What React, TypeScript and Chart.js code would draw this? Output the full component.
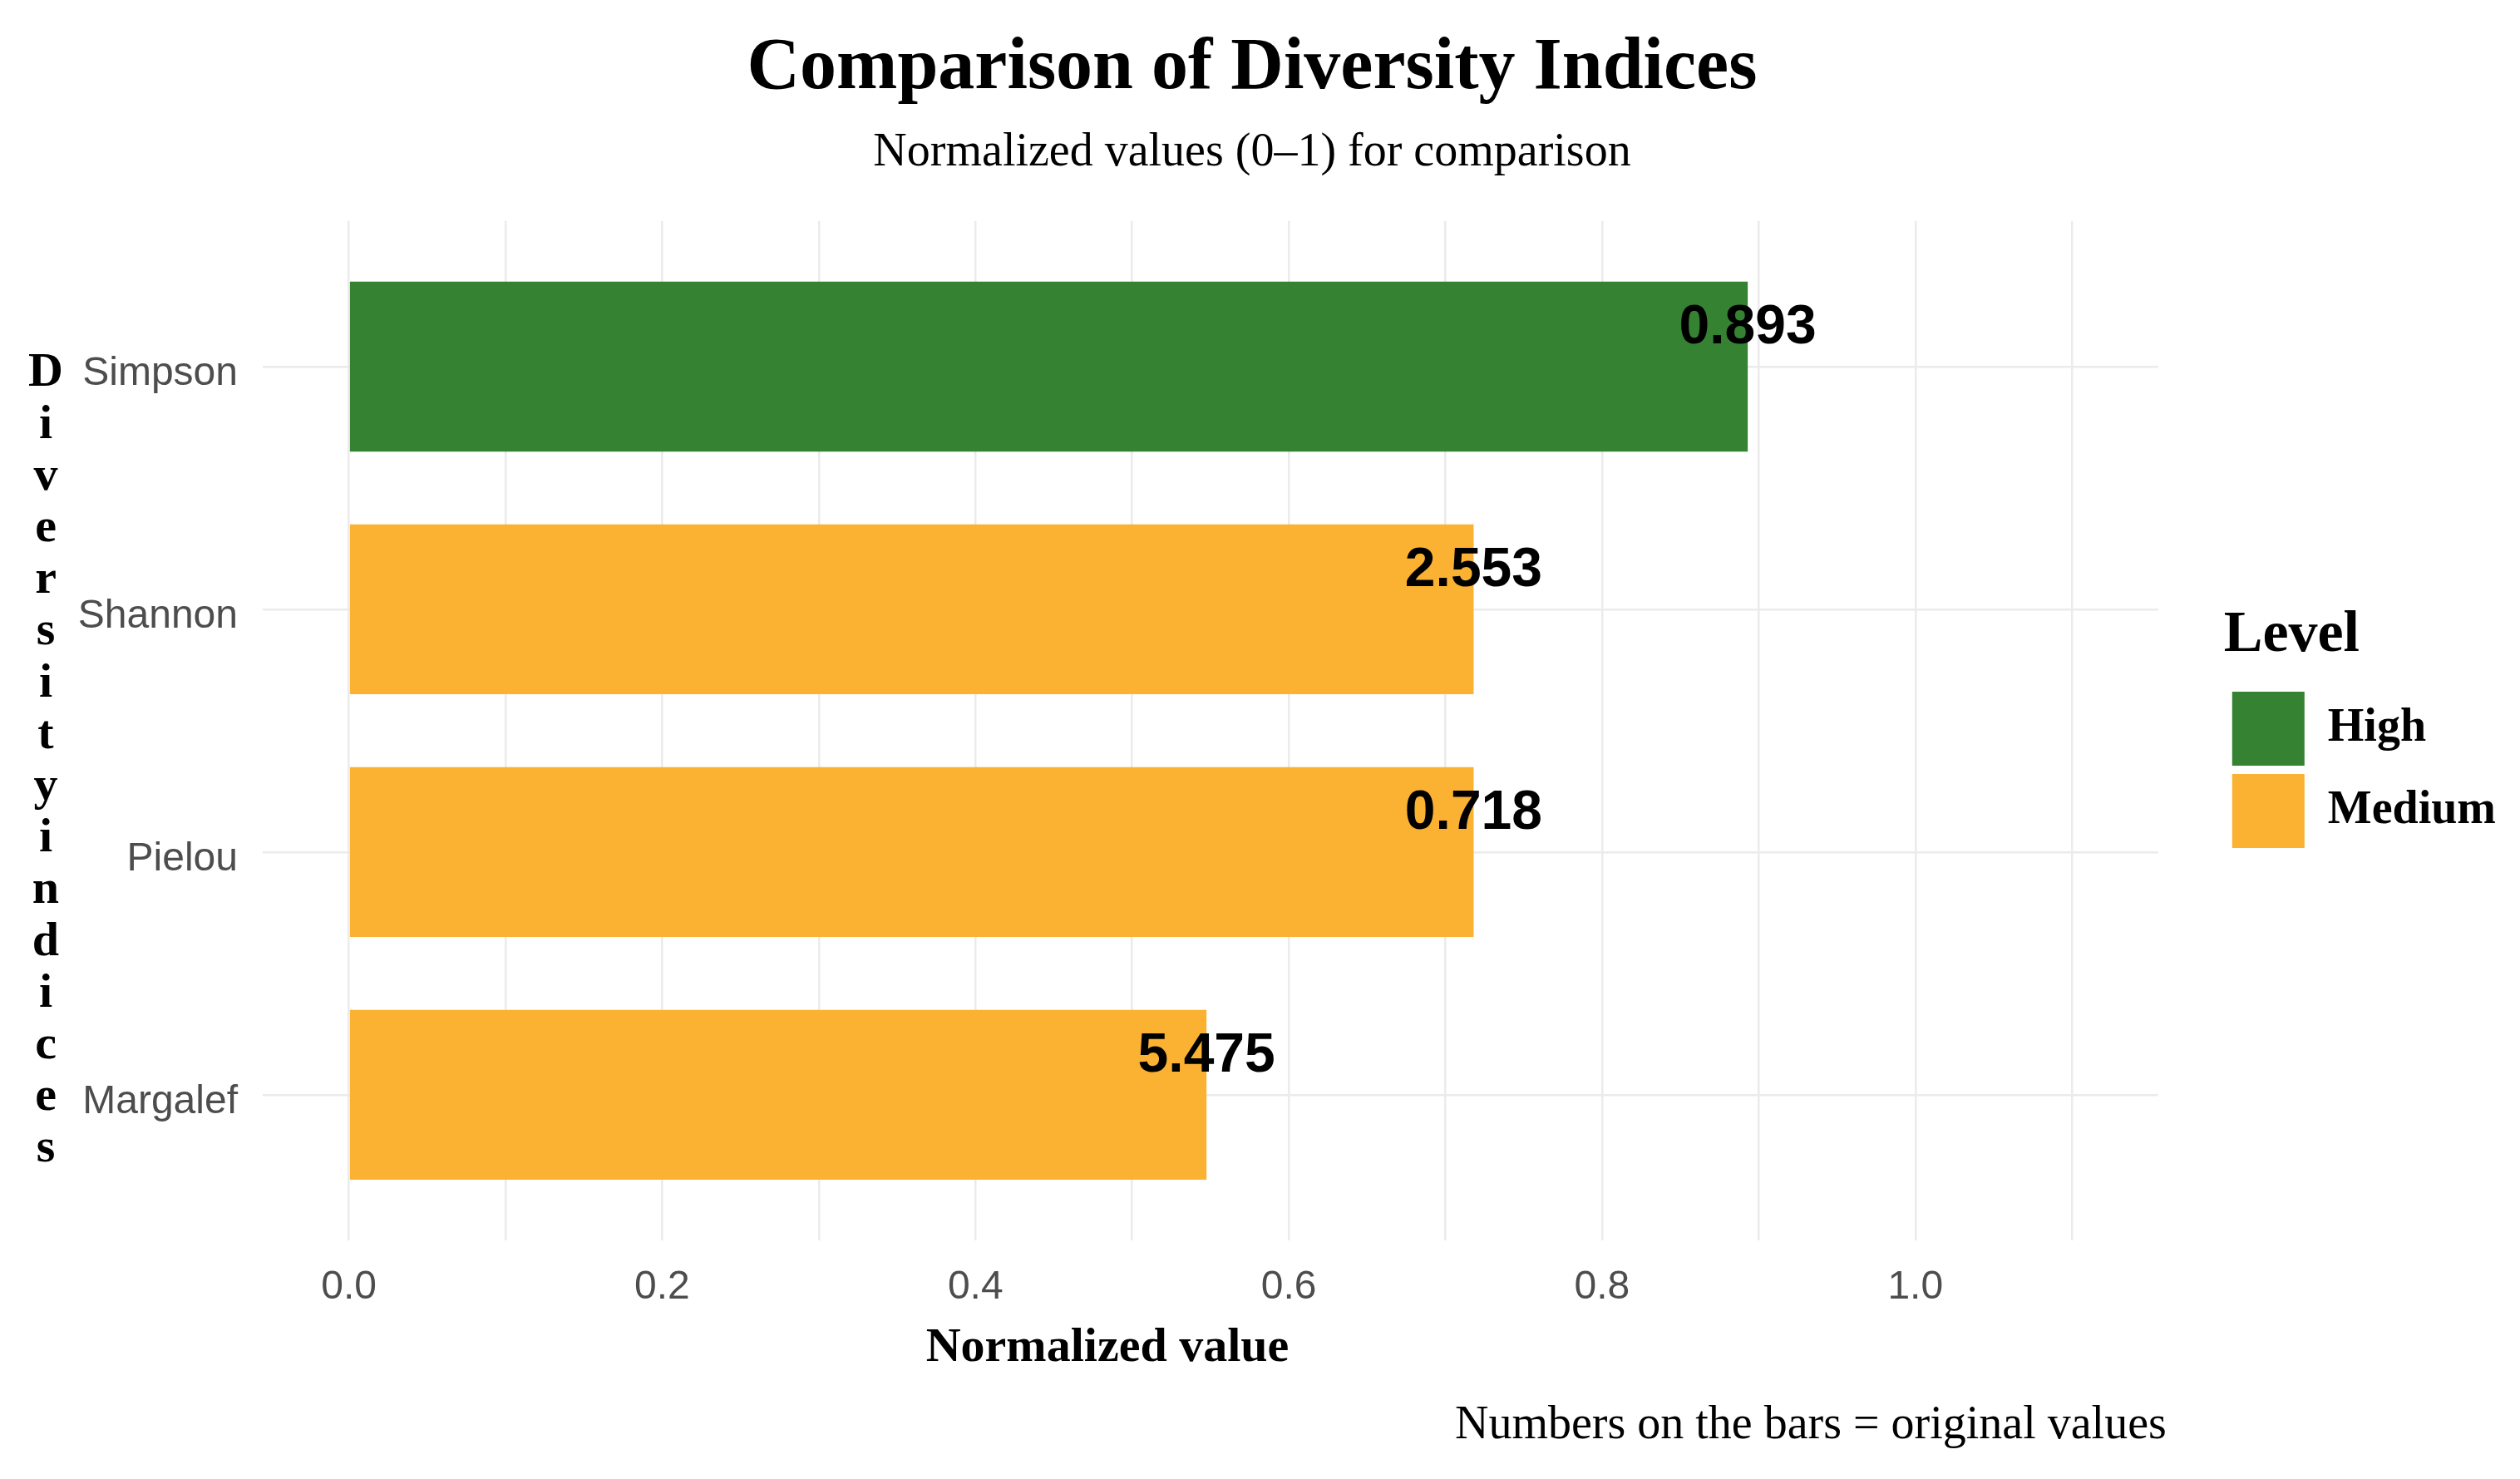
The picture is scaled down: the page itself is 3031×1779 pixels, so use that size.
import { useEffect, useRef } from 'react';
import { Chart, registerables } from 'chart.js';

Chart.register(...registerables);

// Diversity indices, top to bottom
const indices = ['Simpson', 'Shannon', 'Pielou', 'Margalef'];
// Values rescaled to 0–1 (bar lengths)
const normalizedValues = [0.893, 0.718, 0.718, 0.5475];
// Raw index values printed on the bars
const originalValues = [0.893, 2.553, 0.718, 5.475];
// Level class of each index
const levels = ['High', 'Medium', 'Medium', 'Medium'];

const levelNames = ['High', 'Medium'];
const levelColors = ['#358233', '#FBB131'];

const xBreaks = [0, 0.2, 0.4, 0.6, 0.8, 1.0];
const xMinorBreaks = [0.1, 0.3, 0.5, 0.7, 0.9, 1.1];
const xLimits = [-0.055, 1.155];

const chartTitle = 'Comparison of Diversity Indices';
const chartSubtitle = 'Normalized values (0–1) for comparison';
const xAxisTitle = 'Normalized value';
const yAxisTitle = 'Diversity indices';
const footnote = 'Numbers on the bars = original values';

const SERIF = '"Liberation Serif", "Times New Roman", serif';
const SANS = '"Liberation Sans", Arial, sans-serif';

const yPositions = indices.map((_, i) => i + 1);
const gridColor = '#EBEBEB';

const textPlugin = {
  id: 'diversityText',
  afterDatasetsDraw(chart: any) {
    const { ctx } = chart;
    const meta = chart.getDatasetMeta(0);
    ctx.save();
    ctx.font = `bold 66px ${SANS}`;
    ctx.fillStyle = '#000';
    ctx.textAlign = 'center';
    ctx.textBaseline = 'middle';
    meta.data.forEach((bar: any, i: number) => {
      ctx.fillText(originalValues[i].toFixed(3), bar.x, bar.y - 46);
    });
    ctx.restore();
  },
  afterDraw(chart: any) {
    const { ctx, chartArea } = chart;
    ctx.save();
    ctx.fillStyle = '#000';

    // y-axis title, one letter per line
    const letters = yAxisTitle.replace(/\s+/g, '').split('');
    const step = 62.2;
    const mid = (chartArea.top + chartArea.bottom) / 2 + 52;
    ctx.font = `bold 58px ${SERIF}`;
    ctx.textAlign = 'center';
    ctx.textBaseline = 'alphabetic';
    letters.forEach((ch, k) => {
      ctx.fillText(ch, 55, mid + (k - (letters.length - 1) / 2) * step);
    });

    // x-axis title
    ctx.font = `bold 58px ${SERIF}`;
    ctx.textAlign = 'center';
    ctx.fillText(xAxisTitle, chartArea.left + 1016, chartArea.bottom + 145);

    // caption
    ctx.font = `56px ${SERIF}`;
    ctx.textAlign = 'right';
    ctx.fillText(footnote, chartArea.right + 10, chartArea.bottom + 238);
    ctx.restore();
  },
};

export default function App() {
  const canvasRef = useRef<HTMLCanvasElement | null>(null);

  useEffect(() => {
    const canvas = canvasRef.current;
    if (!canvas) return;

    const chart = new Chart(canvas, {
      type: 'bar',
      data: {
        datasets: [
          {
            label: 'Normalized value',
            data: normalizedValues.map((v, i) => ({ x: v, y: yPositions[i] })) as any,
            backgroundColor: levels.map((l) => levelColors[levelNames.indexOf(l)]),
            borderWidth: 0,
            categoryPercentage: 1,
            barPercentage: 0.7,
          },
        ],
      },
      options: {
        indexAxis: 'y',
        responsive: false,
        animation: false,
        devicePixelRatio: 1,
        events: [],
        layout: { padding: { left: 0, right: 19, top: 0, bottom: 187 } },
        scales: {
          x: {
            type: 'linear',
            position: 'bottom',
            min: xLimits[0],
            max: xLimits[1],
            offset: false,
            afterBuildTicks: (scale: any) => {
              scale.ticks = [...xBreaks, ...xMinorBreaks]
                .sort((a, b) => a - b)
                .map((v) => ({ value: v }));
            },
            afterFit: (scale: any) => {
              scale.height = 100;
            },
            grid: { color: gridColor, lineWidth: 2.5, drawTicks: false, offset: false },
            border: { display: false },
            ticks: {
              autoSkip: false,
              maxRotation: 0,
              padding: 28,
              color: '#4D4D4D',
              font: { family: SANS, size: 48 },
              callback: (value: any) =>
                xBreaks.some((b) => Math.abs(b - Number(value)) < 1e-9)
                  ? Number(value).toFixed(1)
                  : '',
            },
          },
          y: {
            type: 'linear',
            position: 'left',
            min: 0.4,
            max: 4.6,
            reverse: true,
            offset: false,
            afterBuildTicks: (scale: any) => {
              scale.ticks = yPositions.map((v) => ({ value: v }));
            },
            afterFit: (scale: any) => {
              scale.width = 316;
            },
            grid: { color: gridColor, lineWidth: 2.5, drawTicks: false, offset: false },
            border: { display: false },
            ticks: {
              autoSkip: false,
              padding: 30,
              labelOffset: 9,
              color: '#4D4D4D',
              font: { family: SANS, size: 48 },
              callback: (value: any) => indices[Math.round(Number(value)) - 1] ?? '',
            },
          },
          gap: {
            type: 'linear',
            position: 'right',
            display: true,
            grid: { display: false },
            border: { display: false },
            ticks: { display: false },
            afterFit: (scale: any) => {
              scale.width = 79;
            },
          },
        } as any,
        plugins: {
          title: {
            display: true,
            text: chartTitle,
            color: '#000',
            font: { family: SERIF, size: 88, weight: 'bold' },
            padding: { top: 30, bottom: 15 },
          },
          subtitle: {
            display: true,
            text: chartSubtitle,
            color: '#000',
            font: { family: SERIF, size: 56, weight: 'normal' },
            padding: { top: 0, bottom: 48 },
          },
          legend: {
            display: true,
            position: 'right',
            align: 'center',
            fullSize: false,
            onClick: () => {},
            title: {
              display: true,
              text: 'Level',
              position: 'start',
              color: '#000',
              font: { family: SERIF, size: 70, weight: 'bold' },
              padding: { top: 2, bottom: 8 },
            },
            labels: {
              boxWidth: 87,
              boxHeight: 89,
              padding: 10,
              color: '#000',
              font: { family: SERIF, size: 56, weight: 'bold' },
              generateLabels: () =>
                levelNames.map((name, i) => ({
                  text: name,
                  fillStyle: levelColors[i],
                  strokeStyle: levelColors[i],
                  lineWidth: 0,
                  hidden: false,
                  datasetIndex: 0,
                })),
            },
          },
          tooltip: { enabled: false },
        },
      } as any,
      plugins: [textPlugin],
    });

    return () => chart.destroy();
  }, []);

  return (
    <div
      style={{
        position: 'fixed',
        left: 0,
        top: 0,
        width: 3031,
        height: 1779,
        background: '#fff',
      }}
    >
      <canvas ref={canvasRef} width={3031} height={1779} style={{ display: 'block' }} />
    </div>
  );
}
